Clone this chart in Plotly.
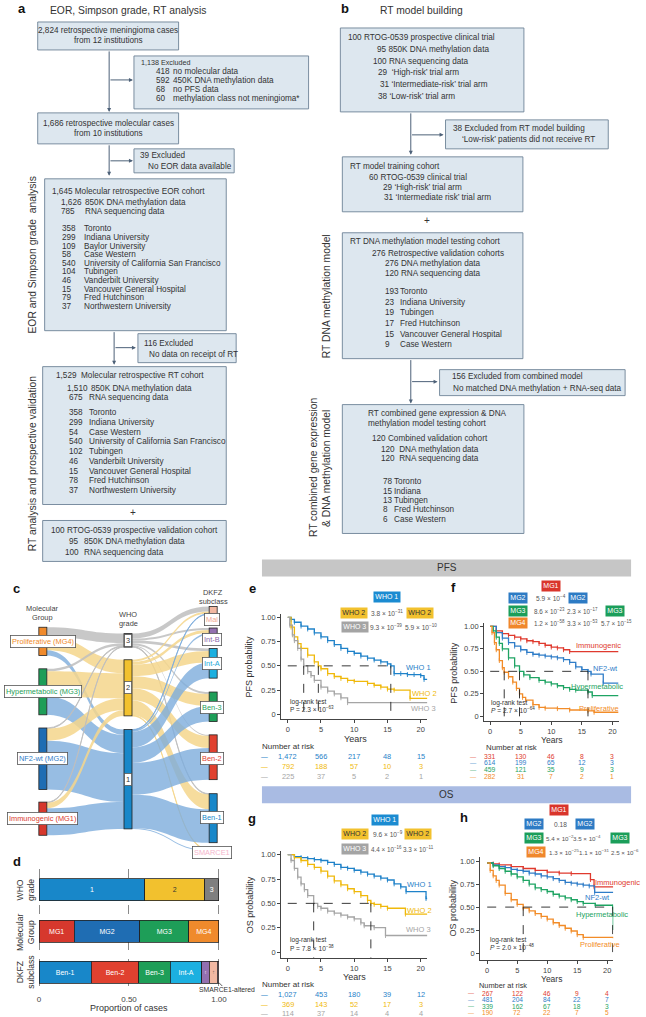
import plotly.graph_objects as go

W, H = 646, 1017
FONT = "Liberation Sans"
TXT = "#333333"
BOXFILL = "#dde7ef"
BOXLINE = "#6d8296"
ARROW = "#4d6178"
FS = 8.2  # flowchart text size

# ---------------- DATA ----------------
# Panel c / d : cohort composition (counts)
mg_labels = ["Proliferative (MG4)", "Hypermetabolic (MG3)", "NF2-wt (MG2)", "Immunogenic (MG1)"]
mg_short = ["MG4", "MG3", "MG2", "MG1"]
who_labels = ["3", "2", "1"]
dkfz_labels = ["Mal", "Int-B", "Int-A", "Ben-3", "Ben-2", "Ben-1", "SMARCE1"]
# rows MG4, MG3, MG2, MG1 ; cols WHO3, WHO2, WHO1
mg_to_who = [[95, 135, 52],
             [25, 250, 184],
             [8, 120, 486],
             [7, 55, 269]]
# rows WHO3, WHO2, WHO1 ; cols Mal, Int-B, Int-A, Ben-3, Ben-2, Ben-1, SMARCE1
who_to_dkfz = [[50, 20, 25, 20, 12, 8, 0],
               [20, 30, 115, 120, 120, 148, 7],
               [6, 17, 155, 155, 315, 333, 10]]

# Panel e : PFS by WHO grade
e_who1_t = [0, 0.5, 1, 2, 3, 4, 5, 6, 7, 8, 9, 10, 11, 12, 13, 14, 15, 15.5, 16, 17, 18, 19, 20, 20.5, 21]
e_who1_s = [1.0, 0.98, 0.95, 0.91, 0.88, 0.84, 0.80, 0.76, 0.72, 0.68, 0.65, 0.63, 0.60, 0.58, 0.56, 0.54, 0.52, 0.50, 0.42, 0.42, 0.41, 0.41, 0.40, 0.36, 0.36]
e_who2_t = [0, 0.5, 1, 1.5, 2, 3, 4, 4.6, 5, 6, 7, 8, 9, 10, 12, 13, 14, 15, 16, 18.4, 21]
e_who2_s = [1.0, 0.90, 0.80, 0.73, 0.68, 0.61, 0.54, 0.50, 0.47, 0.42, 0.39, 0.37, 0.35, 0.34, 0.32, 0.30, 0.28, 0.26, 0.25, 0.165, 0.165]
e_who3_t = [0, 0.3, 0.7, 1, 1.5, 2, 2.4, 3, 3.5, 4, 5, 6, 7, 8, 9, 21]
e_who3_s = [1.0, 0.92, 0.82, 0.76, 0.68, 0.57, 0.50, 0.44, 0.40, 0.35, 0.28, 0.24, 0.21, 0.17, 0.12, 0.12]
e_risk_who1 = ["1,472", "566", "217", "48", "15"]
e_risk_who2 = ["792", "188", "57", "10", "3"]
e_risk_who3 = ["225", "37", "5", "2", "1"]

# Panel f : PFS by molecular group
f_mg1_t = [0, 1, 2, 3, 4, 5, 6, 7, 8, 9, 10, 11, 12, 13, 21]
f_mg1_s = [1.0, 0.95, 0.92, 0.90, 0.88, 0.86, 0.84, 0.83, 0.81, 0.79, 0.77, 0.76, 0.74, 0.72, 0.72]
f_mg2_t = [0, 1, 2, 3, 4, 5, 6, 7, 8, 9, 10, 11, 12, 13, 14, 15, 16, 16.5, 18.5, 21]
f_mg2_s = [1.0, 0.93, 0.87, 0.82, 0.78, 0.74, 0.71, 0.69, 0.68, 0.67, 0.66, 0.65, 0.63, 0.60, 0.55, 0.52, 0.50, 0.47, 0.37, 0.37]
f_mg3_t = [0, 0.5, 1, 1.5, 2, 3, 4, 4.8, 5.5, 6.5, 8, 9, 10, 11, 12, 13, 14, 16, 16.7, 21]
f_mg3_s = [1.0, 0.95, 0.88, 0.81, 0.75, 0.65, 0.56, 0.50, 0.46, 0.43, 0.40, 0.38, 0.36, 0.34, 0.32, 0.30, 0.29, 0.27, 0.23, 0.23]
f_mg4_t = [0, 0.3, 0.7, 1, 1.5, 2, 2.3, 3, 3.7, 4.3, 4.8, 5.3, 5.8, 7, 8, 9, 11, 13, 16, 17, 21]
f_mg4_s = [1.0, 0.93, 0.82, 0.74, 0.62, 0.54, 0.49, 0.44, 0.38, 0.31, 0.25, 0.21, 0.18, 0.13, 0.10, 0.09, 0.085, 0.07, 0.06, 0.045, 0.045]
f_risk_mg1 = ["331", "130", "46", "8", "3"]
f_risk_mg2 = ["614", "199", "65", "12", "3"]
f_risk_mg3 = ["459", "121", "35", "9", "3"]
f_risk_mg4 = ["282", "31", "7", "2", "1"]

# Panel g : OS by WHO grade
g_who1_t = [0, 1, 2, 3, 4, 5, 6, 7, 8, 9, 10, 11, 12, 13, 14, 15, 16, 17, 17.8, 20.8, 21]
g_who1_s = [1.0, 0.98, 0.97, 0.96, 0.95, 0.94, 0.92, 0.90, 0.87, 0.86, 0.84, 0.82, 0.80, 0.78, 0.76, 0.74, 0.70, 0.67, 0.62, 0.55, 0.55]
g_who2_t = [0, 1, 2, 3, 4, 5, 6, 7, 8, 9, 10, 11, 12, 12.5, 13, 14, 15, 17.7, 21]
g_who2_s = [1.0, 0.97, 0.94, 0.90, 0.87, 0.83, 0.78, 0.73, 0.69, 0.65, 0.62, 0.58, 0.53, 0.50, 0.49, 0.47, 0.45, 0.39, 0.39]
g_who3_t = [0, 0.5, 1, 1.5, 2, 2.5, 3, 3.9, 4.5, 5, 6, 7, 8, 9, 10, 11, 11.5, 13, 14.7, 21]
g_who3_s = [1.0, 0.94, 0.86, 0.77, 0.70, 0.64, 0.58, 0.50, 0.47, 0.45, 0.42, 0.40, 0.38, 0.36, 0.34, 0.30, 0.27, 0.25, 0.17, 0.17]
g_risk_who1 = ["1,027", "453", "180", "39", "12"]
g_risk_who2 = ["369", "143", "52", "17", "3"]
g_risk_who3 = ["114", "37", "14", "4", "4"]

# Panel h : OS by molecular group
h_mg1_t = [0, 1, 2, 4, 6, 8, 10, 12, 14, 17.2, 17.8, 21]
h_mg1_s = [0.98, 0.97, 0.96, 0.94, 0.92, 0.90, 0.88, 0.87, 0.865, 0.80, 0.72, 0.72]
h_mg2_t = [0, 1, 2, 3, 4, 5, 6, 7, 8, 9, 10, 11, 12, 13, 14, 15, 16, 17, 17.9, 21]
h_mg2_s = [0.98, 0.96, 0.94, 0.93, 0.91, 0.90, 0.89, 0.87, 0.86, 0.84, 0.83, 0.81, 0.79, 0.77, 0.76, 0.75, 0.74, 0.73, 0.66, 0.66]
h_mg3_t = [0, 1, 2, 3, 4, 5, 6, 7, 8, 9, 10, 11, 12, 13, 14, 15, 16, 18, 20.9, 21]
h_mg3_s = [0.98, 0.95, 0.92, 0.89, 0.86, 0.83, 0.79, 0.75, 0.71, 0.69, 0.67, 0.64, 0.62, 0.60, 0.58, 0.56, 0.54, 0.52, 0.50, 0.25]
h_mg4_t = [0, 0.5, 1, 1.5, 2, 3, 4, 5, 6, 7, 8, 9, 10, 11, 12, 13, 14, 15, 16, 21]
h_mg4_s = [0.98, 0.90, 0.84, 0.79, 0.74, 0.65, 0.58, 0.53, 0.49, 0.46, 0.43, 0.40, 0.37, 0.33, 0.30, 0.27, 0.24, 0.20, 0.17, 0.16]
h_risk_mg1 = ["267", "122", "46", "9", "4"]
h_risk_mg2 = ["481", "204", "84", "22", "7"]
h_risk_mg3 = ["339", "162", "67", "18", "3"]
h_risk_mg4 = ["190", "72", "22", "7", "5"]

risk_times = [0, 5, 10, 15, 20]
x_ticks = [0, 5, 10, 15, 20]
y_ticks = [0, 0.25, 0.5, 0.75, 1.0]
y_ticktext = ["0", "0.25", "0.50", "0.75", "1.00"]

# ---------------- STYLE ----------------
C_WHO1, C_WHO2, C_WHO3 = "#1f82c9", "#f0b90b", "#a5a5a5"
C_MG1, C_MG2, C_MG3, C_MG4 = "#e03a2e", "#2f7dc8", "#1ea463", "#f28c28"
BOX_WHO = {"1": "#1b8bd1", "2": "#f2c12e", "3": "#a4a4a4"}
BOX_MG = {"1": "#d9352b", "2": "#2d7bc4", "3": "#1b9e5a", "4": "#f0872c"}

fig = go.Figure()
ann = []
shapes = []


def X(px):
    return px / W


def Y(py):
    return 1 - py / H


def text(x, y, s, size=FS, color=TXT, xanchor="left", angle=0, **kw):
    ann.append(dict(x=X(x), y=Y(y), xref="paper", yref="paper", text=s, showarrow=False,
                    xanchor=xanchor, yanchor="middle", textangle=angle,
                    font=dict(size=size, color=color, family=FONT), **kw))


def rect(x0, y0, x1, y1, fill=BOXFILL, line=BOXLINE, lw=0.9):
    shapes.append(dict(type="rect", xref="paper", yref="paper", x0=X(x0), x1=X(x1),
                       y0=Y(y1), y1=Y(y0), fillcolor=fill, line=dict(color=line, width=lw),
                       layer="below"))


def arrow(x0, y0, x1, y1):
    ann.append(dict(x=X(x1), y=Y(y1), xref="paper", yref="paper", ax=x0 - x1, ay=y0 - y1,
                    text="", showarrow=True, arrowhead=2, arrowsize=0.8, arrowwidth=1,
                    arrowcolor=ARROW, standoff=0))


# ---------------- PANEL a ----------------
text(22, 8, "<b>a</b>", size=13, color="#111", xanchor="center")
text(48, 10, "EOR, Simpson grade, RT analysis", size=10.3)
rect(38, 21, 180, 49)
text(109, 29.5, "2,824 retrospective meningioma cases", xanchor="center")
text(109, 39.5, "from 12 institutions", xanchor="center")
arrow(110, 49, 110, 111)
arrow(110, 79, 134, 79)
rect(135, 55, 311, 108)
text(140, 62, "1,138 Excluded", size=7.2)
for i, (n, s) in enumerate([("418", "no molecular data"), ("592", "450K DNA methylation data"),
                            ("68", "no PFS data"), ("60", "methylation class not meningioma*")]):
    text(155, 71 + 9 * i, n)
    text(172, 71 + 9 * i, s)
rect(38, 112, 180, 143)
text(109, 122.5, "1,686 retrospective molecular cases", xanchor="center")
text(109, 133, "from 10 institutions", xanchor="center")
arrow(110, 143, 110, 175)
arrow(110, 160, 134, 160)
rect(135, 148, 236, 172)
text(139, 155, "39 Excluded")
text(147, 166, "No EOR data available")
rect(45, 178, 228, 330)
text(50, 191, "1,645 Molecular retrospective EOR cohort")
text(59, 202, "1,626")
text(84, 202, "850K DNA methylation data")
text(59, 211, "785")
text(84, 211, "RNA sequencing data")
for i, (n, s) in enumerate([("358", "Toronto"), ("299", "Indiana University"), ("109", "Baylor University"),
                            ("58", "Case Western"), ("540", "University of California San Francisco"),
                            ("104", "Tubingen"), ("46", "Vanderbilt University"),
                            ("15", "Vancouver General Hospital"), ("79", "Fred Hutchinson"),
                            ("37", "Northwestern University")]):
    text(60, 228 + 8.65 * i, n)
    text(83, 228 + 8.65 * i, s)
arrow(115, 330, 115, 364)
arrow(115, 347, 137, 347)
rect(139, 333, 238, 362)
text(143, 343, "116 Excluded")
text(148, 354, "No data on receipt of RT")
rect(43, 366, 228, 504)
text(54, 375, "1,529  Molecular retrospective RT cohort")
text(66, 388, "1,510")
text(90, 388, "850K DNA methylation data")
text(68, 396.5, "675")
text(88, 396.5, "RNA sequencing data")
for i, (n, s) in enumerate([("358", "Toronto"), ("299", "Indiana University"), ("54", "Case Western"),
                            ("540", "University of California San Francisco"), ("102", "Tubingen"),
                            ("46", "Vanderbilt University"), ("15", "Vancouver General Hospital"),
                            ("78", "Fred Hutchinson"), ("37", "Northwestern University")]):
    text(68, 412 + 9.75 * i, n)
    text(88, 412 + 9.75 * i, s)
text(134, 512, "+", size=10, xanchor="center")
rect(43, 520, 228, 561)
text(49, 530, "100 RTOG-0539 prospective validation cohort")
text(68, 541, "95")
text(83, 541, "850K DNA methylation data")
text(63, 552, "100")
text(83, 552, "RNA sequencing data")
text(33, 254, "EOR and Simpson grade  analysis", size=10.3, xanchor="center", angle=-90)
text(33, 463, "RT analysis and prospective validation", size=10.3, xanchor="center", angle=-90)

# ---------------- PANEL b ----------------
text(348, 8, "<b>b</b>", size=13, color="#111", xanchor="center")
text(381, 10, "RT model building", size=10.3)
rect(343, 27, 528, 111)
text(349, 37, "100 RTOG-0539 prospective clinical trial")
text(378, 49, "95 850K DNA methylation data")
text(374, 61, "100 RNA sequencing data")
text(379, 72, "29  \u2018High-risk\u2019 trial arm")
text(381, 84, "31 \u2018Intermediate-risk\u2019 trial arm")
text(379, 96, "38 \u2018Low-risk\u2019 trial arm")
arrow(414, 111, 414, 154)
arrow(414, 134, 447, 134)
rect(449, 119, 613, 148)
text(455, 128, "38 Excluded from RT model building")
text(464, 139, "\u2018Low-risk\u2019 patients did not receive RT")
rect(345, 156, 527, 211)
text(351, 166, "RT model training cohort")
text(370, 177, "60 RTOG-0539 clinical trial")
text(384, 187, "29 \u2018High-risk\u2019 trial arm")
text(385, 197, "31 \u2018Intermediate risk\u2019 trial arm")
text(430, 220, "+", size=10, xanchor="center")
rect(345, 232, 527, 358)
text(351, 241, "RT DNA methylation model testing cohort")
text(373, 253, "276 Retrospective validation cohorts")
text(386, 263, "276 DNA methylation data")
text(386, 273, "120 RNA sequencing data")
for i, (n, s) in enumerate([("193", "Toronto"), ("23", "Indiana University"), ("19", "Tubingen"),
                            ("17", "Fred Hutchinson"), ("15", "Vancouver General Hospital"),
                            ("9", "Case Western")]):
    text(386, 291 + 10.6 * i, n)
    text(401, 291 + 10.6 * i, s)
arrow(414, 358, 414, 403)
arrow(414, 381, 441, 381)
rect(443, 369, 630, 395)
text(454, 376, "156 Excluded from combined model")
text(455, 388, "No matched DNA methylation + RNA-seq data")
rect(345, 404, 528, 533)
text(369, 413, "RT combined gene expression & DNA")
text(369, 423, "methylation model testing cohort")
text(373, 438, "120 Combined validation cohort")
text(382, 449, "120  DNA methylation data")
text(382, 458, "120  RNA sequencing data")
for i, (n, s) in enumerate([("78", "Toronto"), ("15", "Indiana"), ("13", "Tubingen"),
                            ("8", "Fred Hutchinson"), ("6", "Case Western")]):
    text(384, 481 + 9.5 * i, n)
    text(395, 481 + 9.5 * i, s)
text(329, 295, "RT DNA methylation model", size=10.3, xanchor="center", angle=-90)
text(316, 467, "RT combined gene expression", size=10.3, xanchor="center", angle=-90)
text(329, 468, "& DNA methylation model", size=10.3, xanchor="center", angle=-90)

# ---------------- banners ----------------
rect(264, 559, 636, 576, fill="#c6c6c6", line="#c6c6c6", lw=0)
text(450, 567.5, "PFS", size=10, xanchor="center")
rect(264, 786, 636, 803, fill="#a9bbe3", line="#a9bbe3", lw=0)
text(450, 794.5, "OS", size=10, xanchor="center")

# ---------------- PANEL c (Sankey) ----------------
text(17, 588, "<b>c</b>", size=13, color="#111", xanchor="center")
text(43, 608, "Molecular", size=7.4, color="#444", xanchor="center")
text(43, 617, "Group", size=7.4, color="#444", xanchor="center")
text(129, 614, "WHO", size=7.4, color="#444", xanchor="center")
text(129, 623, "grade", size=7.4, color="#444", xanchor="center")
text(215, 592, "DKFZ", size=7.4, color="#444", xanchor="center")
text(215, 601, "subclass", size=7.4, color="#444", xanchor="center")

mg_node_col = ["#ef8a2c", "#1e9e58", "#1f6db3", "#d6382d"]
who_node_col = ["#7f7f7f", "#f2c12e", "#1887c9"]
dk_node_col = ["#f2b8a2", "#9370b0", "#1cb0e0", "#1e9e58", "#e0412f", "#1887c9", "#f7c6d8"]
link_col = ["rgba(190,190,190,0.85)", "rgba(245,214,140,0.85)", "rgba(125,172,220,0.8)"]

src, tgt, val, lcol = [], [], [], []
for i in range(len(mg_labels)):
    for j in range(len(who_labels)):
        if mg_to_who[i][j] > 0:
            src.append(i); tgt.append(4 + j); val.append(mg_to_who[i][j]); lcol.append(link_col[j])
for j in range(len(who_labels)):
    for k in range(len(dkfz_labels)):
        if who_to_dkfz[j][k] > 0:
            src.append(4 + j); tgt.append(7 + k); val.append(who_to_dkfz[j][k]); lcol.append(link_col[j])

SK_TOP, SK_BOT = 600, 855
mg_cy = [641, 691.5, 758.5, 818.5]
who_cy = [640, 687.5, 779]
dk_cy = [610, 631, 663, 706.5, 757, 818, 850]
node_x = [0.001] * 4 + [0.5] * 3 + [0.999] * 7
node_y = [(c - SK_TOP) / (SK_BOT - SK_TOP) for c in mg_cy + who_cy + dk_cy]

fig.add_trace(go.Sankey(
    domain=dict(x=[X(43), X(215)], y=[Y(SK_BOT), Y(SK_TOP)]),
    arrangement="fixed",
    node=dict(label=[""] * 14, x=node_x, y=node_y, pad=14.3, thickness=8,
              color=mg_node_col + who_node_col + dk_node_col,
              line=dict(color="#222222", width=0.8), hoverinfo="skip"),
    link=dict(source=src, target=tgt, value=val, color=lcol, hoverinfo="skip"),
))


def lbox(x, y, s, color, size=7.4):
    ann.append(dict(x=X(x), y=Y(y), xref="paper", yref="paper", text=s, showarrow=False,
                    xanchor="center", yanchor="middle", bgcolor="white", bordercolor="#555555",
                    borderwidth=0.8, borderpad=1.2, font=dict(size=size, color=color, family=FONT)))


mg_txt_col = ["#f08a2a", "#1e9e58", "#2f7dc8", "#d9382d"]
for lab, cy, c in zip(mg_labels, mg_cy, mg_txt_col):
    lbox(43, cy, lab, c)
for lab, cy in zip(who_labels, who_cy):
    lbox(129, cy, lab, "#333333")
dk_txt_col = ["#f2a890", "#8a63a8", "#1ba8d8", "#1e9e58", "#e0412f", "#1887c9", "#f5b5cc"]
dk_off = [9, 8, 0, 0.5, 1, -1, 2]
for lab, cy, c, o in zip(dkfz_labels, dk_cy, dk_txt_col, dk_off):
    lbox(214, cy + o, lab, c)

# ---------------- PANEL d (stacked proportions) ----------------
text(17, 861, "<b>d</b>", size=13, color="#111", xanchor="center")
total = sum(sum(r) for r in mg_to_who)
who_counts = [sum(mg_to_who[i][j] for i in range(4)) for j in range(3)]
mg_counts = [sum(r) for r in mg_to_who]
dk_counts = [sum(who_to_dkfz[j][k] for j in range(3)) for k in range(7)]
row_names = ["WHO", "MG", "DKFZ"]

segs = []
for j in [2, 1, 0]:
    segs.append(("WHO", who_counts[j], who_labels[j], who_node_col[j],
                 "#333" if who_labels[j] == "2" else "white", 0))
for i in [3, 2, 1, 0]:
    segs.append(("MG", mg_counts[i], mg_short[i], mg_node_col[i], "white", 0))
for k in [5, 4, 3, 2, 1, 0, 6]:
    lab = dkfz_labels[k] if k != 6 else ""
    ang = -90 if dkfz_labels[k] in ("Int-B", "Mal") else 0
    segs.append(("DKFZ", dk_counts[k], lab, dk_node_col[k],
                 "#333" if dkfz_labels[k] == "Mal" else "white", ang))
for row, cnt, lab, col, tcol, ang in segs:
    fig.add_trace(go.Bar(orientation="h", y=[row], x=[cnt / total], width=0.53,
                         marker=dict(color=col, line=dict(color="#222", width=0.8)),
                         text=[lab], textposition="inside", insidetextanchor="middle",
                         textangle=ang, textfont=dict(size=7 if ang == 0 else 6, color=tcol, family=FONT),
                         xaxis="x", yaxis="y", hoverinfo="skip", cliponaxis=False))

text(25, 890, "WHO<br>grade", size=8.6, color="#333", xanchor="center", angle=-90)
text(25, 932, "Molecular<br>Group", size=8.6, color="#333", xanchor="center", angle=-90)
text(25, 972, "DKFZ<br>subclass", size=8.6, color="#333", xanchor="center", angle=-90)
text(130, 1008, "Proportion of cases", size=9, color="#333", xanchor="center")
text(229, 989, "SMARCE1-altered", size=6.8, color="#333", xanchor="center")
shapes.append(dict(type="line", xref="paper", yref="paper", x0=X(220.5), y0=Y(982.5), x1=X(224), y1=Y(986),
                   line=dict(color="#333", width=0.8)))

# ---------------- KM panels ----------------
def km_axes(n, xp0, kx, yp0, ky, xr, yr):
    ax = dict(domain=[X(xp0 + kx * xr[0]), X(xp0 + kx * xr[1])], range=xr, anchor="y%d" % n,
              tickvals=x_ticks, showline=True, linecolor="#444", linewidth=0.8, ticks="outside",
              ticklen=3, tickcolor="#444", tickfont=dict(size=7.5, color="#444", family=FONT),
              showgrid=False, zeroline=False)
    ay = dict(domain=[Y(yp0 - ky * yr[0]), Y(yp0 - ky * yr[1])], range=yr, anchor="x%d" % n,
              tickvals=y_ticks, ticktext=y_ticktext, showline=True, linecolor="#444", linewidth=0.8,
              ticks="outside", ticklen=3, tickcolor="#444",
              tickfont=dict(size=7.5, color="#444", family=FONT), showgrid=False, zeroline=False)
    return ax, ay


def km(t, s, color, n):
    fig.add_trace(go.Scatter(x=t, y=s, mode="lines", line=dict(shape="hv", color=color, width=1.3),
                             xaxis="x%d" % n, yaxis="y%d" % n, hoverinfo="skip"))
    fig.add_trace(go.Scatter(x=t[1:-1], y=s[1:-1], mode="markers",
                             marker=dict(symbol="line-ns", size=3.5, line=dict(color=color, width=0.9)),
                             xaxis="x%d" % n, yaxis="y%d" % n, hoverinfo="skip"))


def median(t, s):
    for ti, si in zip(t, s):
        if si <= 0.5:
            return ti
    return None


def median_lines(curves, n, ybot):
    meds = [m for m in (median(t, s) for t, s in curves) if m is not None]
    xr, yr = "x%d" % n, "y%d" % n
    dash = dict(color="#222", width=0.9, dash="dash")
    shapes.append(dict(type="line", xref=xr, yref=yr, x0=0, x1=max(meds), y0=0.5, y1=0.5, line=dash))
    for m in meds:
        shapes.append(dict(type="line", xref=xr, yref=yr, x0=m, x1=m, y0=0.5, y1=ybot, line=dash))


def risk_table(n, rows, colors, ys, dash_x, head_x, head_y, size=7.4, hsize=8):
    text(head_x, head_y, "Number at risk", size=hsize, color="#333")
    for vals, c, yy in zip(rows, colors, ys):
        text(dash_x, yy, "\u2014", size=size - 0.6, color=c, xanchor="center")
        for tt, v in zip(risk_times, vals):
            ann.append(dict(x=tt, y=Y(yy), xref="x%d" % n, yref="paper", text=v, showarrow=False,
                            xanchor="center", yanchor="middle",
                            font=dict(size=size, color=c, family=FONT)))


def pbox(x, y, s, bg, fg):
    ann.append(dict(x=X(x), y=Y(y), xref="paper", yref="paper", text=s, showarrow=False,
                    xanchor="center", yanchor="middle", bgcolor=bg, borderpad=1.3,
                    font=dict(size=7, color=fg, family=FONT)))


def ptxt(x, y, s, size=6.6):
    text(x, y, s, size=size, color="#555", xanchor="center")


# e
ax2, ay2 = km_axes(2, 290, 6.7, 714, 97, [-1, 21], [-0.05, 1.04])
km(e_who1_t, e_who1_s, C_WHO1, 2)
km(e_who2_t, e_who2_s, C_WHO2, 2)
km(e_who3_t, e_who3_s, C_WHO3, 2)
median_lines([(e_who1_t, e_who1_s), (e_who2_t, e_who2_s), (e_who3_t, e_who3_s)], 2, -0.05)
text(254, 588, "<b>e</b>", size=13, color="#111", xanchor="center")
text(251, 666, "PFS probability", size=9, color="#333", xanchor="center", angle=-90)
text(358, 738.5, "Years", size=9, color="#333", xanchor="center")
text(290, 702, "log-rank test", size=6.6, color="#333")
text(290, 709, "P = 2.3 × 10<sup>−63</sup>", size=6.6, color="#333")
text(422, 667, "WHO 1", size=7.5, color=C_WHO1, xanchor="center")
text(428, 693, "WHO 2", size=7.5, color=C_WHO2, xanchor="center")
text(427, 708, "WHO 3", size=7.5, color=C_WHO3, xanchor="center")
pbox(390, 597, "WHO 1", BOX_WHO["1"], "white")
pbox(357, 613, "WHO 2", BOX_WHO["2"], "#333")
ptxt(390, 613, "3.8 × 10<sup>−31</sup>")
pbox(423, 613, "WHO 2", BOX_WHO["2"], "#333")
pbox(358, 627, "WHO 3", BOX_WHO["3"], "white")
ptxt(389, 627, "9.3 × 10<sup>−39</sup>")
ptxt(424, 627, "5.9 × 10<sup>−10</sup>")
risk_table(2, [e_risk_who1, e_risk_who2, e_risk_who3], [C_WHO1, C_WHO2, C_WHO3],
           [756, 766, 776], 267, 262, 746)

# f
ax3, ay3 = km_axes(3, 494, 6.16, 716, 90, [-1, 21], [-0.05, 1.04])
km(f_mg1_t, f_mg1_s, C_MG1, 3)
km(f_mg2_t, f_mg2_s, C_MG2, 3)
km(f_mg3_t, f_mg3_s, C_MG3, 3)
km(f_mg4_t, f_mg4_s, C_MG4, 3)
median_lines([(f_mg1_t, f_mg1_s), (f_mg2_t, f_mg2_s), (f_mg3_t, f_mg3_s), (f_mg4_t, f_mg4_s)], 3, -0.05)
text(457, 587, "<b>f</b>", size=13, color="#111", xanchor="center")
text(458, 672, "PFS probability", size=9, color="#333", xanchor="center", angle=-90)
text(556, 740, "Years", size=8.6, color="#333", xanchor="center")
text(493, 703, "log-rank test", size=6.6, color="#333")
text(493, 709.5, "<i>P</i> = 2.7 × 10<sup>−64</sup>", size=6.6, color="#333")
text(603, 645, "Immunogenic", size=7.5, color=C_MG1, xanchor="center")
text(610, 668, "NF2-wt", size=7.5, color=C_MG2, xanchor="center")
text(602, 686, "Hypermetabolic", size=7.5, color=C_MG3, xanchor="center")
text(604, 708, "Proliferative", size=7.5, color=C_MG4, xanchor="center")
pbox(555, 586, "MG1", BOX_MG["1"], "white")
pbox(522, 598, "MG2", BOX_MG["2"], "white")
ptxt(555, 598, "5.9 × 10<sup>−4</sup>")
pbox(583, 598, "MG2", BOX_MG["2"], "white")
pbox(522, 611, "MG3", BOX_MG["3"], "white")
ptxt(554, 611, "8.6 × 10<sup>−23</sup>", 6.3)
ptxt(587, 611, "2.3 × 10<sup>−17</sup>", 6.3)
pbox(620, 611, "MG3", BOX_MG["3"], "white")
pbox(522, 623, "MG4", BOX_MG["4"], "white")
ptxt(554, 623, "1.2 × 10<sup>−58</sup>", 6.3)
ptxt(587, 623, "3.3 × 10<sup>−53</sup>", 6.3)
ptxt(621, 623, "5.7 × 10<sup>−15</sup>", 6.3)
risk_table(3, [f_risk_mg1, f_risk_mg2, f_risk_mg3, f_risk_mg4], [C_MG1, C_MG2, C_MG3, C_MG4],
           [756, 762.7, 769.4, 776], 477, 488, 747, size=6.8, hsize=7.8)

# g
ax4, ay4 = km_axes(4, 290, 6.7, 952, 97.5, [-1, 21], [-0.06, 1.04])
km(g_who1_t, g_who1_s, C_WHO1, 4)
km(g_who2_t, g_who2_s, C_WHO2, 4)
km(g_who3_t, g_who3_s, C_WHO3, 4)
median_lines([(g_who1_t, g_who1_s), (g_who2_t, g_who2_s), (g_who3_t, g_who3_s)], 4, -0.06)
text(254, 818, "<b>g</b>", size=13, color="#111", xanchor="center")
text(252, 905, "OS probability", size=9, color="#333", xanchor="center", angle=-90)
text(357, 977, "Years", size=9, color="#333", xanchor="center")
text(290, 940, "log-rank test", size=6.6, color="#333")
text(290, 947.5, "P = 7.8 × 10<sup>−38</sup>", size=6.6, color="#333")
text(423, 884, "WHO 1", size=7.5, color=C_WHO1, xanchor="center")
text(423, 910, "WHO 2", size=7.5, color=C_WHO2, xanchor="center")
text(422, 929, "WHO 3", size=7.5, color=C_WHO3, xanchor="center")
pbox(387.5, 820, "WHO 1", BOX_WHO["1"], "white")
pbox(357.5, 834, "WHO 2", BOX_WHO["2"], "#333")
ptxt(391, 834, "9.6 × 10<sup>−9</sup>")
pbox(421.5, 834, "WHO 2", BOX_WHO["2"], "#333")
pbox(357.5, 849, "WHO 3", BOX_WHO["3"], "white")
ptxt(390, 849, "4.4 × 10<sup>−16</sup>", 6.3)
ptxt(422, 849, "3.3 × 10<sup>−11</sup>", 6.3)
risk_table(4, [g_risk_who1, g_risk_who2, g_risk_who3], [C_WHO1, C_WHO2, C_WHO3],
           [994, 1004, 1013], 267, 262, 984)

# h
ax5, ay5 = km_axes(5, 491, 6.05, 953, 92, [-1.2, 21], [-0.08, 1.04])
km(h_mg1_t, h_mg1_s, C_MG1, 5)
km(h_mg2_t, h_mg2_s, C_MG2, 5)
km(h_mg3_t, h_mg3_s, C_MG3, 5)
km(h_mg4_t, h_mg4_s, C_MG4, 5)
median_lines([(h_mg1_t, h_mg1_s), (h_mg2_t, h_mg2_s), (h_mg3_t, h_mg3_s), (h_mg4_t, h_mg4_s)], 5, -0.08)
text(468, 817, "<b>h</b>", size=13, color="#111", xanchor="center")
text(457, 908, "OS probability", size=9, color="#333", xanchor="center", angle=-90)
text(556, 978.5, "Years", size=8.5, color="#333", xanchor="center")
text(492, 940, "log-rank test", size=6.6, color="#333")
text(492, 947, "<i>P</i> = 2.0 × 10<sup>−48</sup>", size=6.6, color="#333")
text(622, 882, "Immunogenic", size=7.5, color=C_MG1, xanchor="center")
text(602, 897, "NF2-wt", size=7.5, color=C_MG2, xanchor="center")
text(607, 914, "Hypermetabolic", size=7.5, color=C_MG3, xanchor="center")
text(605, 944, "Proliferative", size=7.5, color=C_MG4, xanchor="center")
pbox(563, 810, "MG1", BOX_MG["1"], "white")
pbox(538, 824, "MG2", BOX_MG["2"], "white")
ptxt(565, 824, "0.18")
pbox(590, 824, "MG2", BOX_MG["2"], "white")
pbox(538, 838, "MG3", BOX_MG["3"], "white")
ptxt(564, 838, "5.4 × 10<sup>−2</sup>", 6.2)
ptxt(592, 838, "3.5 × 10<sup>−4</sup>", 6.2)
pbox(625, 838, "MG3", BOX_MG["3"], "white")
pbox(540, 852, "MG4", BOX_MG["4"], "white")
ptxt(568, 852, "1.3 × 10<sup>−25</sup>", 6.2)
ptxt(599, 852, "1.1 × 10<sup>−31</sup>", 6.2)
ptxt(630, 852, "2.5 × 10<sup>−6</sup>", 6.2)
risk_table(5, [h_risk_mg1, h_risk_mg2, h_risk_mg3, h_risk_mg4], [C_MG1, C_MG2, C_MG3, C_MG4],
           [993, 999.5, 1006, 1012.5], 475, 481, 985, size=6.6, hsize=7.4)

# ---------------- LAYOUT ----------------
fig.update_layout(
    width=W, height=H, margin=dict(l=0, r=0, t=0, b=0),
    paper_bgcolor="white", plot_bgcolor="rgba(0,0,0,0)", showlegend=False,
    font=dict(family=FONT, color=TXT),
    barmode="stack",
    xaxis=dict(domain=[X(35.7), X(224.3)], range=[-0.02, 1.02], anchor="y",
               tickvals=[0, 0.5, 1], ticktext=["0", "0.50", "1.00"], showgrid=True,
               gridcolor="#8a8a8a", griddash="dash", gridwidth=0.8, zeroline=False, showline=False,
               ticks="", tickfont=dict(size=8, color="#444", family=FONT)),
    yaxis=dict(domain=[Y(993), Y(869)], type="category", categoryorder="array",
               categoryarray=row_names, range=[2.5, -0.5], showticklabels=False, showgrid=False,
               zeroline=False, showline=False, anchor="x"),
    xaxis2=ax2, yaxis2=ay2, xaxis3=ax3, yaxis3=ay3, xaxis4=ax4, yaxis4=ay4, xaxis5=ax5, yaxis5=ay5,
    annotations=ann, shapes=shapes,
)

fig.write_html("out.html", config={"displayModeBar": False},
               post_script="document.body.style.margin='0px';document.body.style.overflow='hidden';")
